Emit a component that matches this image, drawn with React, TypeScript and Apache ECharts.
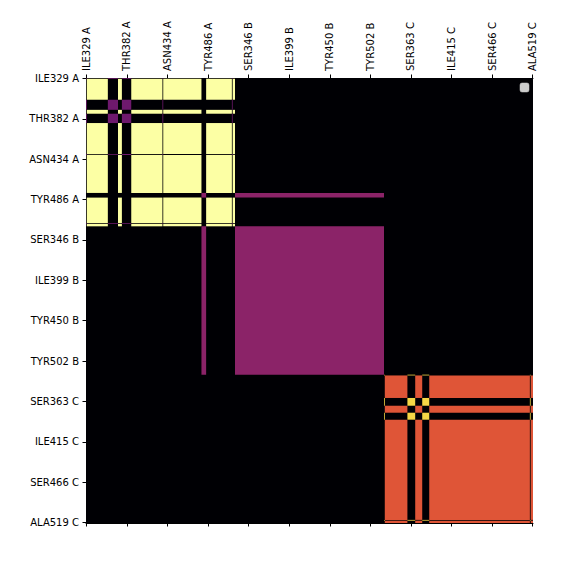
import React, { useEffect, useRef } from "react";
import * as echarts from "echarts";

// ---- data ----
const chainIds = ["A", "B", "C"];
const residuesPerChain = 191;

// runs of residues (offset within chain, first..last) and the cluster they belong to
const chainARuns: [number, number, string][] = [
  [0, 0, "a2"], [1, 27, "a1"], [28, 40, "a2"], [41, 45, "a1"], [46, 57, "a2"],
  [58, 97, "a1"], [98, 98, "a2"], [99, 147, "a1"], [148, 153, "b"],
  [154, 186, "a1"], [187, 187, "a2"], [188, 190, "a1"],
];
const chainBRuns: [number, number, string][] = [[0, 190, "b"]];
const chainCRuns: [number, number, string][] = [
  [0, 0, "c2"], [1, 29, "c1"], [30, 39, "c2"], [40, 48, "c1"], [49, 57, "c2"],
  [58, 186, "c1"], [187, 187, "c2"], [188, 190, "c1"],
];

const groupNames = ["a1", "a2", "b", "c1", "c2"];
const groupValues = [1.0, 0.31, 0.38, 0.61, 0.9];

const tickLabels = [
  "ILE329 A", "THR382 A", "ASN434 A", "TYR486 A",
  "SER346 B", "ILE399 B", "TYR450 B", "TYR502 B",
  "SER363 C", "ILE415 C", "SER466 C", "ALA519 C",
];
const tickIndex = [0, 52, 104, 156, 208, 260, 312, 364, 416, 468, 520, 572];

const infernoStops = [
  "#000004", "#160b39", "#420a68", "#6a176e", "#932667", "#bc3754",
  "#dd513a", "#f37819", "#fca50a", "#f6d746", "#fcffa4",
];

// ---- build cells ----
const nTotal = chainIds.length * residuesPerChain;
const allRuns = [chainARuns, chainBRuns, chainCRuns];

function buildCells() {
  const byGroup: Record<string, [number, number][]> = {};
  allRuns.forEach((runs, ci) => {
    runs.forEach(([s, e, g]) => {
      const base = ci * residuesPerChain;
      (byGroup[g] = byGroup[g] || []).push([base + s, base + e + 1]);
    });
  });
  const cells: number[][] = [[0, nTotal, 0, nTotal, 0]];
  groupNames.forEach((g, gi) => {
    const runs = byGroup[g] || [];
    runs.forEach(([x0, x1]) => {
      runs.forEach(([y0, y1]) => {
        cells.push([x0, x1, y0, y1, groupValues[gi]]);
      });
    });
  });
  return cells;
}

const tickPos = tickIndex.map((i) => i + 0.5);
const labelFor = (v: number) => {
  const k = tickPos.findIndex((p) => Math.abs(p - v) < 1e-6);
  return k >= 0 ? tickLabels[k] : "";
};

export default function App() {
  const ref = useRef<HTMLDivElement>(null);
  useEffect(() => {
    if (!ref.current) return;
    const chart = echarts.init(ref.current, null, { renderer: "svg" });
    const font = { fontFamily: "DejaVu Sans", fontSize: 10, color: "#000" };
    const axisCommon = {
      type: "value" as const,
      min: 0,
      max: nTotal,
      splitLine: { show: false },
      axisLine: { show: true, onZero: false, lineStyle: { color: "#000", width: 1 } },
      axisTick: {
        show: true,
        length: 3.5,
        customValues: tickPos,
        lineStyle: { color: "#000", width: 1 },
      },
    };
    chart.setOption({
      animation: false,
      backgroundColor: "#ffffff",
      grid: { left: 86, top: 78, width: 447, height: 445, containLabel: false },
      xAxis: [
        {
          ...axisCommon,
          position: "top",
          axisLabel: {
            ...font,
            rotate: -90,
            margin: 7,
            customValues: tickPos,
            formatter: (v: number) => labelFor(v),
          },
        },
        {
          ...axisCommon,
          position: "bottom",
          axisLabel: { show: false },
        },
      ],
      yAxis: {
        ...axisCommon,
        inverse: true,
        axisLabel: {
          ...font,
          margin: 7,
          customValues: tickPos,
          formatter: (v: number) => labelFor(v),
        },
      },
      visualMap: {
        type: "continuous",
        show: false,
        min: 0,
        max: 1,
        dimension: 4,
        seriesIndex: 0,
        inRange: { color: infernoStops },
      },
      series: [
        {
          type: "custom",
          coordinateSystem: "cartesian2d",
          xAxisIndex: 0,
          yAxisIndex: 0,
          encode: { x: [0, 1], y: [2, 3] },
          data: buildCells(),
          renderItem: (params: any, api: any) => {
            const p0 = api.coord([api.value(0), api.value(2)]);
            const p1 = api.coord([api.value(1), api.value(3)]);
            return {
              type: "rect",
              shape: {
                x: Math.min(p0[0], p1[0]),
                y: Math.min(p0[1], p1[1]),
                width: Math.abs(p1[0] - p0[0]),
                height: Math.abs(p1[1] - p0[1]),
              },
              style: { fill: api.visual("color") },
            };
          },
        },
      ],
      graphic: [
        {
          type: "rect",
          shape: { x: 520, y: 83, width: 9, height: 9, r: 2 },
          style: { fill: "rgba(255,255,255,0.8)", stroke: "#cccccc", lineWidth: 0.5 },
          z: 100,
        },
      ],
    });
    return () => chart.dispose();
  }, []);
  return (
    <div
      ref={ref}
      style={{ position: "fixed", left: 0, top: 0, width: 576, height: 576 }}
    />
  );
}
